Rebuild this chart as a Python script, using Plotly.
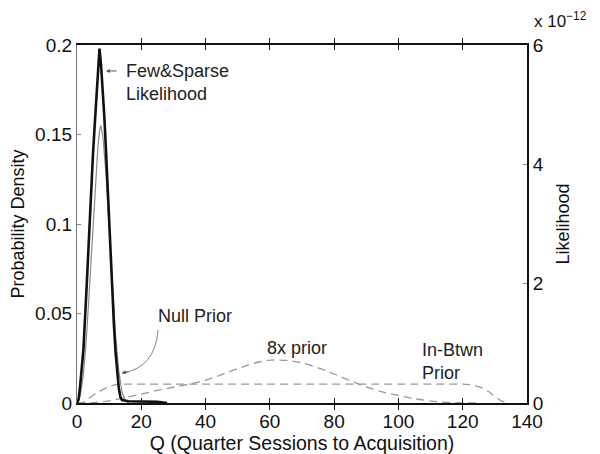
import plotly.graph_objects as go

# ---- data ----
q_like = [0, 0.5, 1, 1.5, 2, 3, 4, 4.5, 5, 5.5, 6, 6.5, 7, 7.5, 8, 8.5, 9, 9.5, 10,
          10.5, 11, 11.5, 12, 12.5, 13, 13.5, 14, 16, 20, 25, 28]
likelihood_e12 = [0, 0.06, 0.3, 0.55, 0.9, 1.95, 3.2, 3.8, 4.2, 4.65, 5.15, 5.6, 5.94, 5.65,
                  5.25, 4.8, 4.25, 3.6, 2.95, 2.4, 1.8, 1.3, 0.85, 0.5, 0.25, 0.1, 0.05,
                  0.03, 0.03, 0.02, 0]

q_null = [0, 1, 2, 3, 4, 5, 6, 6.5, 7, 7.4, 8, 8.5, 9, 10, 11, 12, 13, 14, 15, 16]
null_prior = [0, 0.004, 0.016, 0.038, 0.068, 0.1, 0.13, 0.143, 0.152, 0.155, 0.15, 0.14,
              0.128, 0.098, 0.066, 0.038, 0.018, 0.006, 0.0015, 0]

q_8x = [0, 5, 10, 15, 20, 25, 30, 35, 40, 45, 50, 55, 60, 65, 70, 75, 80, 85, 90, 95,
        100, 105, 110, 115, 120, 125]
prior_8x = [0, 0.0002, 0.0012, 0.003, 0.005, 0.007, 0.0088, 0.0106, 0.0128, 0.0158, 0.0192,
            0.0222, 0.0239, 0.0238, 0.0224, 0.0196, 0.0162, 0.0125, 0.009, 0.0062, 0.0042,
            0.0024, 0.0011, 0.0004, 0.0001, 0]

q_btwn = [0, 2, 4, 6, 8, 10, 12, 13, 14, 120, 122, 124, 126, 128, 130, 132, 134]
prior_btwn = [0, 0.0005, 0.003, 0.0055, 0.0075, 0.0092, 0.0103, 0.0105, 0.0105, 0.0105,
              0.0103, 0.0096, 0.0084, 0.0064, 0.0037, 0.0012, 0]

x_ticks = [0, 20, 40, 60, 80, 100, 120, 140]
y_ticks = [0, 0.05, 0.1, 0.15, 0.2]
y2_ticks = [0, 2, 4, 6]

FONT = "Liberation Sans, Arial, sans-serif"
GRAY_D = "#9a9a9a"
TICK_SIZE = 19
TITLE_SIZE = 18

fig = go.Figure()
fig.add_trace(go.Scatter(x=q_8x, y=prior_8x, mode="lines", name="8x prior",
                         line=dict(color=GRAY_D, width=1.3, dash="8px,5px", shape="spline", smoothing=0.8)))
fig.add_trace(go.Scatter(x=q_btwn, y=prior_btwn, mode="lines", name="In-Btwn Prior",
                         line=dict(color=GRAY_D, width=1.3, dash="8px,5px", shape="spline", smoothing=0.5)))
fig.add_trace(go.Scatter(x=q_like, y=likelihood_e12, mode="lines", name="Few&Sparse Likelihood",
                         yaxis="y2", line=dict(color="#111111", width=2.6)))
fig.add_trace(go.Scatter(x=q_null, y=null_prior, mode="lines", name="Null Prior",
                         line=dict(color="#8a8a8a", width=1.2)))

# page body has an 8px margin, so the figure is 8px smaller and the left/top margins 8px less
fig.update_layout(
    width=592, height=446,
    margin=dict(l=69, r=73, t=37, b=51, autoexpand=False),
    paper_bgcolor="white", plot_bgcolor="white",
    showlegend=False,
    font=dict(family=FONT, size=TICK_SIZE, color="#111111"),
    xaxis=dict(range=[0, 140], tickvals=x_ticks, ticks="inside", ticklen=5, tickcolor="#222",
               showline=True, linecolor="#111", linewidth=2, mirror="allticks",
               showgrid=False, zeroline=False, automargin=False,
               title=dict(text="Q (Quarter Sessions to Acquisition)", standoff=0,
                          font=dict(size=19.5)),
               tickfont=dict(size=TICK_SIZE)),
    yaxis=dict(range=[0, 0.2], tickvals=y_ticks, ticks="inside", ticklen=4, tickcolor="#888",
               showline=True, linecolor="#777", linewidth=1.2, automargin=False,
               showgrid=False, zeroline=False,
               title=dict(text="Probability Density", standoff=8, font=dict(size=TITLE_SIZE)),
               tickfont=dict(size=TICK_SIZE)),
    yaxis2=dict(range=[0, 6], tickvals=y2_ticks, ticks="inside", ticklen=4, tickcolor="#888",
                overlaying="y", side="right", anchor="x", automargin=False,
                showline=True, linecolor="#111", linewidth=2,
                showgrid=False, zeroline=False,
                title=dict(text="Likelihood", standoff=14, font=dict(size=TITLE_SIZE)),
                tickfont=dict(size=TICK_SIZE)),
)

ann_font = dict(family=FONT, size=18, color="#222")
fig.add_annotation(x=14.6, y=0.1788, xref="x", yref="y", text="Few&Sparse<br>Likelihood",
                   showarrow=False, xanchor="left", yanchor="middle", align="left", font=ann_font)
fig.add_annotation(x=9.0, y=0.1855, ax=12.8, ay=0.1855, xref="x", yref="y", axref="x", ayref="y",
                   text="", showarrow=True, arrowhead=2, arrowsize=0.8, arrowwidth=1, arrowcolor="#555")
fig.add_annotation(x=36.7, y=0.0486, xref="x", yref="y", text="Null Prior",
                   showarrow=False, xanchor="center", yanchor="middle", font=ann_font)
fig.add_shape(type="path", xref="x", yref="y",
              path="M 25.2,0.0408 Q 24.3,0.0196 14.2,0.0168",
              line=dict(color="#888", width=1))
fig.add_annotation(x=13.9, y=0.0168, ax=16.5, ay=0.0175, xref="x", yref="y", axref="x", ayref="y",
                   text="", showarrow=True, arrowhead=2, arrowsize=0.8, arrowwidth=1, arrowcolor="#555")
fig.add_annotation(x=68.4, y=0.0307, xref="x", yref="y", text="8x prior",
                   showarrow=False, xanchor="center", yanchor="middle", font=ann_font)
fig.add_annotation(x=106.7, y=0.0232, xref="x", yref="y", text="In-Btwn<br>Prior",
                   showarrow=False, xanchor="left", yanchor="middle", align="left", font=ann_font)
fig.add_annotation(x=1.012, y=1.07, xref="paper", yref="paper", text="x 10<sup>\u221212</sup>",
                   showarrow=False, xanchor="left", yanchor="middle", font=dict(family=FONT, size=17, color="#111"))

fig.write_html("out.html")
